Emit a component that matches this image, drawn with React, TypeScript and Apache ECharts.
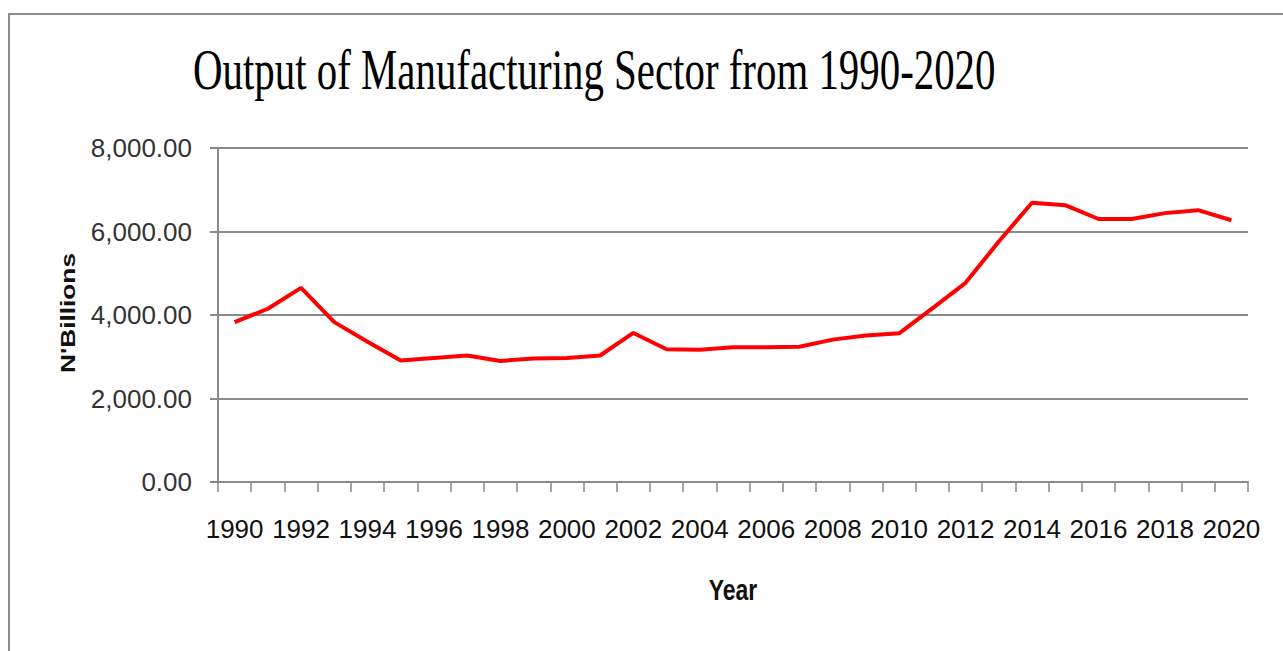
import React, { useEffect, useRef } from "react";
import * as echarts from "echarts";

const years = [
  "1990", "1991", "1992", "1993", "1994", "1995", "1996", "1997", "1998", "1999",
  "2000", "2001", "2002", "2003", "2004", "2005", "2006", "2007", "2008", "2009",
  "2010", "2011", "2012", "2013", "2014", "2015", "2016", "2017", "2018", "2019", "2020",
];
const output = [
  3830, 4150, 4650, 3830, 3360, 2910, 2970, 3030, 2900, 2960,
  2970, 3030, 3570, 3180, 3170, 3230, 3230, 3240, 3410, 3510,
  3560, 4160, 4770, 5760, 6690, 6630, 6300, 6300, 6440, 6510, 6270,
];
const titleText = "Output of Manufacturing Sector from 1990-2020";
const yName = "N'Billions";
const xName = "Year";

export default function App() {
  const ref = useRef<HTMLDivElement>(null);
  useEffect(() => {
    if (!ref.current) return;
    const chart = echarts.init(ref.current, null, { renderer: "svg" });
    const gray = "#8a8a8a";
    chart.setOption({
      animation: false,
      backgroundColor: "#ffffff",
      grid: { left: 218, right: 35, top: 148, bottom: 169, containLabel: false },
      xAxis: {
        type: "category",
        data: years,
        boundaryGap: true,
        axisLine: { show: true, lineStyle: { color: gray, width: 2 } },
        axisTick: { show: true, length: 10, interval: 0, lineStyle: { color: gray, width: 1.5 } },
        axisLabel: {
          interval: 1,
          margin: 34,
          color: "#111111",
          fontFamily: "Liberation Sans",
          fontSize: 26,
        },
        splitLine: { show: false },
      },
      yAxis: {
        type: "value",
        min: 0,
        max: 8000,
        interval: 2000,
        axisLine: { show: true, lineStyle: { color: gray, width: 2 } },
        axisTick: { show: true, length: 8, lineStyle: { color: gray, width: 2 } },
        axisLabel: {
          margin: 26,
          color: "#333333",
          fontFamily: "Liberation Sans",
          fontSize: 26,
          formatter: (v: number) =>
            v.toLocaleString("en-US", { minimumFractionDigits: 2, maximumFractionDigits: 2 }),
        },
        splitLine: { show: true, lineStyle: { color: gray, width: 2 } },
      },
      series: [
        {
          type: "line",
          data: output,
          symbol: "none",
          lineStyle: { color: "#ff0000", width: 4 },
          itemStyle: { color: "#ff0000" },
        },
      ],
      graphic: [
        {
          type: "rect",
          x: 9,
          y: 14,
          shape: { x: 0, y: 0, width: 1400, height: 800 },
          style: { fill: "none", stroke: "#8c8c8c", lineWidth: 2 },
          silent: true,
        },
        {
          type: "text",
          x: 193,
          y: 70,
          scaleX: 0.73,
          style: {
            text: titleText,
            font: "56px 'Liberation Serif'",
            fill: "#000000",
            textAlign: "left",
            textVerticalAlign: "middle",
          },
        },
        {
          type: "text",
          x: 67,
          y: 313,
          rotation: Math.PI / 2,
          scaleX: 1.25,
          style: {
            text: yName,
            font: "bold 21px 'Liberation Sans'",
            fill: "#111111",
            textAlign: "center",
            textVerticalAlign: "middle",
          },
        },
        {
          type: "text",
          x: 733,
          y: 590,
          scaleY: 1.3,
          style: {
            text: xName,
            font: "bold 23px 'Liberation Sans'",
            fill: "#111111",
            textAlign: "center",
            textVerticalAlign: "middle",
          },
        },
      ],
    });
    return () => chart.dispose();
  }, []);
  return (
    <div
      ref={ref}
      style={{ position: "fixed", left: 0, top: 0, width: 1283, height: 651 }}
    />
  );
}
